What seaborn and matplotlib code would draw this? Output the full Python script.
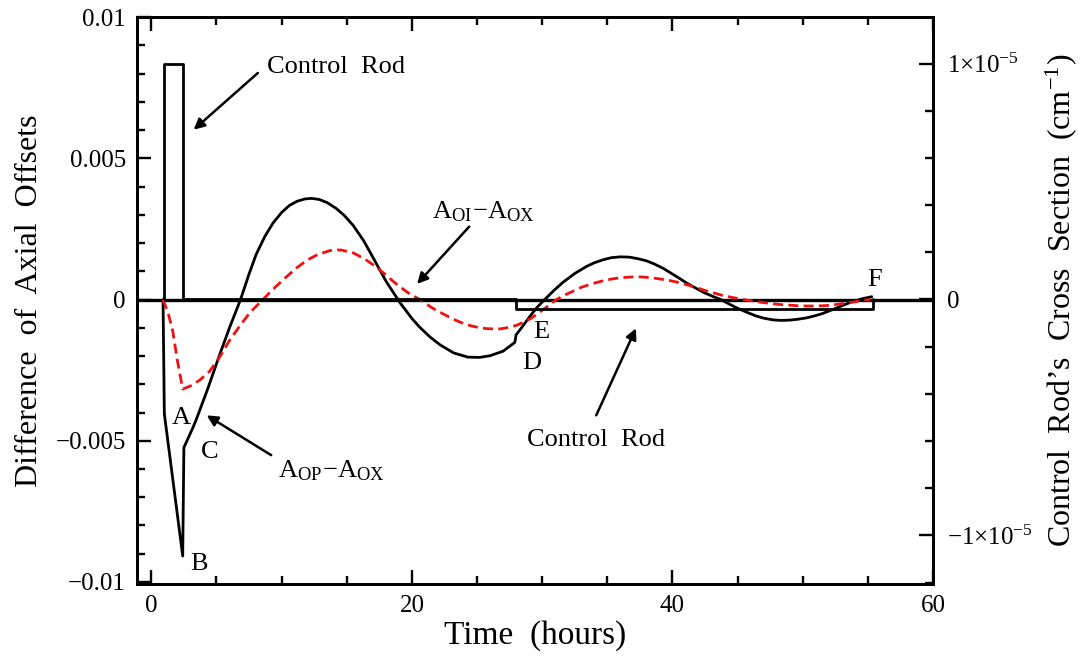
import numpy as np
import matplotlib
matplotlib.use("Agg")
import matplotlib.pyplot as plt
from matplotlib.ticker import MultipleLocator
import seaborn as sns

# AOP - AOX (black solid)
black_t = [0.9, 1.0, 2.41, 2.5, 3.2, 3.45, 4.3, 5.25, 6.0, 6.85, 7.5, 8.05, 8.7, 9.33,
           10.0, 10.6, 11.2, 11.8, 12.3, 12.9, 13.5, 14.2, 14.8, 15.5, 16.3, 17.0,
           18.05, 19.1, 20.0, 20.6, 21.4, 22.15, 23.2, 24.3, 25.2, 26.0, 27.0, 27.9,
           28.0, 28.5, 29.1, 29.6, 30.2, 30.9, 31.6, 32.5, 33.4, 34.0, 34.7, 35.3,
           36.0, 36.7, 37.3, 38.0, 38.6, 39.3, 39.9, 40.5, 41.1, 41.8, 42.4, 43.1,
           43.7, 44.4, 45.0, 45.7, 46.4, 47.0, 47.7, 48.3, 49.0, 49.6, 50.3, 50.9,
           51.5, 52.0, 52.5, 52.9, 53.5, 54.0, 54.5, 55.0, 55.3]
black_v = [0.0, -0.00405, -0.00908, -0.00524, -0.00453, -0.00425, -0.0032, -0.00195,
           -0.0010, 0.0, 0.0009, 0.0016, 0.00222, 0.0027, 0.00308, 0.00333, 0.00348,
           0.00356, 0.00358, 0.00354, 0.00343, 0.00322, 0.00298, 0.00262, 0.00208,
           0.0015, 0.00062, -0.00012, -0.00067, -0.00098, -0.00133, -0.0016, -0.00189,
           -0.00204, -0.00205, -0.00199, -0.00183, -0.00152, -0.00125, -0.00095,
           -0.00057, -0.00028, 0.0, 0.00032, 0.00061, 0.00092, 0.00117, 0.0013, 0.00141,
           0.00148, 0.00151, 0.0015, 0.00145, 0.00137, 0.00126, 0.0011, 0.00093,
           0.00076, 0.00058, 0.0004, 0.00025, 0.00011, 0.0, -0.00017, -0.00031,
           -0.00045, -0.00058, -0.00066, -0.00072, -0.00074, -0.00073, -0.0007,
           -0.00065, -0.00058, -0.0005, -0.00041, -0.00032, -0.00024, -0.00013,
           -0.00005, 0.00002, 0.00007, 0.0001]

# AOI - AOX (red dashed)
red_t = [0.9, 1.3, 1.64, 2.0, 2.41, 3.0, 3.7, 4.46, 5.23, 6.0, 6.77, 7.54, 8.56, 9.5,
         10.36, 11.1, 11.9, 12.8, 13.7, 14.2, 14.6, 15.5, 16.4, 17.3, 18.05, 18.8, 19.7,
         20.6, 21.6, 22.2, 22.7, 23.2, 23.7, 24.2, 24.7, 25.2, 25.7, 26.2, 26.8, 27.4,
         28.0, 28.5, 29.1, 29.6, 30.1, 30.6, 31.1, 31.7, 32.4, 33.0, 33.7, 34.4, 35.0,
         35.7, 36.3, 36.9, 37.5, 38.2, 39.0, 39.8, 40.6, 41.2, 41.9, 42.5, 43.2, 43.8,
         44.5, 45.1, 45.7, 46.4, 47.0, 47.7, 48.3, 49.0, 49.6, 50.3, 50.9, 51.6, 52.2,
         52.8, 53.4, 54.0, 54.6, 55.2]
red_v = [0.0, -0.0005, -0.0011, -0.00216, -0.00317, -0.00306, -0.00286, -0.00255,
         -0.00205, -0.00145, -0.00095, -0.00048, 0.0, 0.00043, 0.0008, 0.0011, 0.00138,
         0.0016, 0.00173, 0.00176, 0.00175, 0.00165, 0.00143, 0.00114, 0.00085,
         0.00055, 0.00024, 0.0, -0.00031, -0.00046, -0.00058, -0.0007, -0.0008,
         -0.00089, -0.00095, -0.001, -0.00103, -0.00104, -0.00104, -0.00099, -0.00092,
         -0.00082, -0.00068, -0.00052, -0.00035, -0.00018, 0.0, 0.00015, 0.0003,
         0.00043, 0.00054, 0.00063, 0.0007, 0.00075, 0.00078, 0.0008, 0.0008, 0.00078,
         0.00073, 0.00067, 0.00059, 0.00051, 0.00041, 0.00032, 0.00023, 0.00015,
         0.00008, 0.00003, -0.00002, -0.00007, -0.00011, -0.00015, -0.00018, -0.0002,
         -0.00022, -0.00023, -0.00023, -0.00022, -0.0002, -0.00016, -0.00012, -0.00008,
         -0.00003, 0.0]

# control rod cross section (right axis)
rod_t = [0.95, 0.95, 2.45, 2.45, 28.0, 28.0, 55.4, 55.4]
rod_v = [0.0, 1e-5, 1e-5, 0.0, 0.0, -4e-7, -4e-7, 0.0]

left_ticks = [-0.01, -0.005, 0, 0.005, 0.01]
left_labels = ["\u22120.01", "\u22120.005", "0", "0.005", "0.01"]
right_ticks = [-1e-5, 0, 1e-5]
right_labels = ["$\\mathregular{-1{\\times}10^{-5}}$", "0", "$\\mathregular{1{\\times}10^{-5}}$"]
x_ticks = [0, 20, 40, 60]

sns.set_style("ticks")
plt.rcParams["font.family"] = ["Liberation Serif", "DejaVu Serif"]
plt.rcParams["mathtext.fontset"] = "stix"
plt.rcParams["axes.linewidth"] = 2.0
for key in ["text.color", "axes.labelcolor", "xtick.color", "ytick.color", "axes.edgecolor"]:
    plt.rcParams[key] = "black"

fig = plt.figure(figsize=(10.82, 6.6), dpi=100)
ax = fig.add_axes([0.1266, 0.1152, 0.7357, 0.859])
ax2 = ax.twinx()

ax.axhline(0, color="black", lw=2.4, zorder=1)
sns.lineplot(x=black_t, y=black_v, ax=ax, sort=False, estimator=None,
             color="black", lw=2.0, zorder=3)
sns.lineplot(x=red_t, y=red_v, ax=ax, sort=False, estimator=None,
             color="#f01010", lw=2.0, linestyle=(0, (3.6, 1.9)), zorder=4)
sns.lineplot(x=rod_t, y=rod_v, ax=ax2, sort=False, estimator=None,
             color="black", lw=2.0, zorder=2)

ax.set_xlim(-1.1, 60)
ax.set_ylim(-0.01007, 0.0100)
ax2.set_ylim(-1.2055e-5, 1.197e-5)

ax.set_xticks(x_ticks)
ax.set_xticklabels([str(v) for v in x_ticks])
ax.xaxis.set_minor_locator(MultipleLocator(5))
ax.set_yticks(left_ticks)
ax.set_yticklabels(left_labels)
ax.yaxis.set_minor_locator(MultipleLocator(0.001))
ax2.set_yticks(right_ticks)
ax2.set_yticklabels(right_labels)
ax2.yaxis.set_minor_locator(MultipleLocator(2e-6))

ax.tick_params(axis="both", which="both", direction="in", width=1.7, labelsize=18)
ax.tick_params(axis="x", which="both", top=True, pad=8)
ax.tick_params(axis="y", which="both", right=False, pad=8)
ax.tick_params(which="major", length=10)
ax.tick_params(which="minor", length=6)
ax2.tick_params(axis="y", which="both", direction="in", width=1.7, labelsize=18, pad=10)
ax2.tick_params(which="major", length=10)
ax2.tick_params(which="minor", length=6)

ax.set_xlabel("Time  (hours)", fontsize=24, labelpad=2)
ax.set_ylabel("Difference  of  Axial  Offsets", fontsize=23, labelpad=8)
ax2.set_ylabel("Control  Rod\u2019s  Cross  Section  (cm$^{\\mathregular{-1}}$)",
               fontsize=23, labelpad=8)

arrow = dict(arrowstyle="-|>", color="black", lw=1.8, mutation_scale=16,
             shrinkA=0, shrinkB=0)
fs = 19
ax.text(14.15, 0.00823, "Control  Rod", ha="center", va="center", fontsize=fs)
ax.annotate("", xy=(3.25, 0.00601), xytext=(8.18, 0.00802), arrowprops=arrow)
ax.text(25.5, 0.00311, "A$_{\\mathregular{OI}}$\u2212A$_{\\mathregular{OX}}$",
        ha="center", va="center", fontsize=fs)
ax.annotate("", xy=(20.4, 0.00055), xytext=(24.4, 0.00258), arrowprops=arrow)
ax.text(13.8, -0.00605, "A$_{\\mathregular{OP}}$\u2212A$_{\\mathregular{OX}}$",
        ha="center", va="center", fontsize=fs)
ax.annotate("", xy=(4.25, -0.0041), xytext=(9.2, -0.00551), arrowprops=arrow)
ax.text(34.1, -0.00498, "Control  Rod", ha="center", va="center", fontsize=fs)
ax.annotate("", xy=(37.2, -0.00102), xytext=(34.15, -0.0041), arrowprops=arrow)

for lab, tx, ty in [("A", 2.28, -0.00421), ("B", 3.69, -0.00935), ("C", 4.46, -0.0054),
                    ("D", 29.2, -0.00224), ("E", 29.9, -0.00114), ("F", 55.5, 0.00069)]:
    ax.text(tx, ty, lab, ha="center", va="center", fontsize=fs)

fig.savefig("out.png", dpi=100)
